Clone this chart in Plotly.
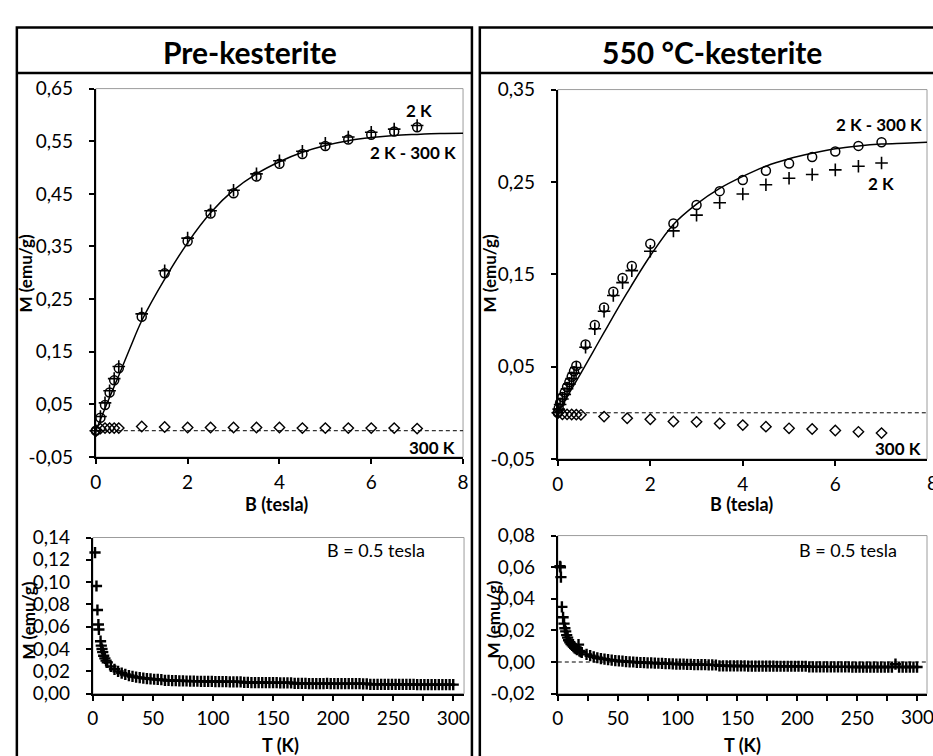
import plotly.graph_objects as go

FONT = "Lato"
W, H = 933, 756

# ---------------- M(B) isotherms, Pre-kesterite ----------------
B_PRE = [0, 0.1, 0.2, 0.3, 0.4, 0.5, 1, 1.5, 2, 2.5, 3, 3.5, 4, 4.5, 5, 5.5, 6, 6.5, 7]
M_PRE_2K = [0.0, 0.027, 0.053, 0.076, 0.099, 0.122, 0.222, 0.304, 0.366, 0.418, 0.457,
            0.488, 0.513, 0.531, 0.546, 0.558, 0.567, 0.573, 0.580]
M_PRE_DIFF = [0.0, 0.0248, 0.049, 0.0726, 0.0957, 0.1185, 0.2164, 0.299, 0.360, 0.4125, 0.451,
              0.483, 0.507, 0.5256, 0.541, 0.5532, 0.5624, 0.5686, 0.5765]
M_PRE_300K = [0.0, 0.004, 0.005, 0.005, 0.005, 0.005, 0.008, 0.007, 0.006, 0.006, 0.006,
              0.006, 0.006, 0.005, 0.005, 0.005, 0.005, 0.005, 0.004]
B_PRE_FIT = [0, 0.25, 0.5, 0.75, 1, 1.5, 2, 2.5, 3, 3.5, 4, 4.5, 5, 5.5, 6, 6.5, 7, 7.5, 8]
M_PRE_FIT = [0.0, 0.053, 0.105, 0.158, 0.209, 0.288, 0.357, 0.414, 0.457, 0.488, 0.511,
             0.529, 0.542, 0.551, 0.557, 0.561, 0.563, 0.5645, 0.565]

# ---------------- M(B) isotherms, 550 °C-kesterite ----------------
B_550 = [0, 0.02, 0.05, 0.1, 0.15, 0.2, 0.25, 0.3, 0.35, 0.4, 0.6, 0.8, 1.0, 1.2, 1.4, 1.6,
         2, 2.5, 3, 3.5, 4, 4.5, 5, 5.5, 6, 6.5, 7]
M_550_DIFF = [0.0, 0.005, 0.011, 0.017, 0.022, 0.028, 0.033, 0.039, 0.045, 0.051, 0.074, 0.095,
              0.114, 0.131, 0.146, 0.159, 0.183, 0.205, 0.225, 0.240, 0.252, 0.262, 0.270,
              0.277, 0.283, 0.289, 0.293]
M_550_2K = [0.0, 0.004, 0.009, 0.015, 0.020, 0.026, 0.031, 0.037, 0.043, 0.049, 0.071, 0.091,
            0.110, 0.127, 0.141, 0.154, 0.175, 0.197, 0.214, 0.2275, 0.237, 0.247, 0.254,
            0.258, 0.263, 0.267, 0.2705]
B_550_300K = [0, 0.1, 0.2, 0.3, 0.4, 0.5, 1, 1.5, 2, 2.5, 3, 3.5, 4, 4.5, 5, 5.5, 6, 6.5, 7]
M_550_300K = [0.0, -0.0015, -0.0017, -0.0018, -0.002, -0.0022, -0.0041, -0.0059, -0.0070,
              -0.0094, -0.0098, -0.0116, -0.0133, -0.0150, -0.0168, -0.0175, -0.0192,
              -0.0206, -0.0220]
B_550_FIT = [0, 0.25, 0.5, 0.75, 1, 1.5, 2, 2.5, 3, 3.5, 4, 4.5, 5, 5.5, 6, 6.5, 7, 7.5, 8]
M_550_FIT = [0.0, 0.0215, 0.043, 0.065, 0.087, 0.130, 0.170, 0.204, 0.226, 0.243, 0.256,
             0.267, 0.275, 0.281, 0.286, 0.289, 0.291, 0.292, 0.293]

# ---------------- M(T) at B = 0.5 tesla, Pre-kesterite ----------------
T_PRE = [1.8, 3.0, 3.8, 4.6, 5.0, 6.4, 7.0, 7.6, 8.2, 9.0, 10.0, 11.0,
         12, 15, 18, 21, 24, 27, 30, 33, 36, 39,
         42, 45, 48, 51, 54, 57, 60, 63, 66, 69,
         72, 75, 78, 81, 84, 87, 90, 93, 96, 99,
         102, 105, 108, 111, 114, 117, 120, 123, 126, 129,
         132, 135, 138, 141, 144, 147, 150, 153, 156, 159,
         162, 165, 168, 171, 174, 177, 180, 183, 186, 189,
         192, 195, 198, 201, 204, 207, 210, 213, 216, 219,
         222, 225, 228, 231, 234, 237, 240, 243, 246, 249,
         252, 255, 258, 261, 264, 267, 270, 273, 276, 279,
         282, 285, 288, 291, 294, 297, 300]
MT_PRE = [0.1265, 0.0965, 0.0750, 0.0620, 0.0575, 0.0470, 0.0430, 0.0400, 0.0372, 0.0340, 0.0316, 0.0296,
          0.0280, 0.0243, 0.0218, 0.0199, 0.0184, 0.0172, 0.0162, 0.0154, 0.0148, 0.0143,
          0.0139, 0.0135, 0.0132, 0.0129, 0.0127, 0.0125, 0.0119, 0.0118, 0.0117, 0.0116,
          0.0115, 0.0114, 0.0113, 0.0112, 0.0112, 0.0111, 0.0110, 0.0110, 0.0109, 0.0109,
          0.0108, 0.0108, 0.0107, 0.0107, 0.0106, 0.0106, 0.0106, 0.0105, 0.0100, 0.0100,
          0.0099, 0.0099, 0.0099, 0.0099, 0.0098, 0.0098, 0.0098, 0.0098, 0.0097, 0.0097,
          0.0097, 0.0097, 0.0091, 0.0091, 0.0091, 0.0091, 0.0090, 0.0090, 0.0090, 0.0090,
          0.0090, 0.0091, 0.0090, 0.0090, 0.0090, 0.0089, 0.0089, 0.0089, 0.0089, 0.0089,
          0.0089, 0.0088, 0.0088, 0.0083, 0.0083, 0.0083, 0.0083, 0.0083, 0.0082, 0.0082,
          0.0082, 0.0082, 0.0082, 0.0082, 0.0082, 0.0082, 0.0081, 0.0081, 0.0081, 0.0081,
          0.0081, 0.0081, 0.0081, 0.0081, 0.0081, 0.0081, 0.0081]

# ---------------- M(T) at B = 0.5 tesla, 550 °C-kesterite ----------------
T_550 = [1.8, 2.2, 2.6, 3.4, 4.4, 5.2, 5.9, 6.6, 7.4, 8.2, 9.0, 10.0, 11.0, 12.0, 13.0,
         14.0, 15.0, 16.0, 17.3, 18.0, 19.0, 20.0,
         24, 27, 30, 33, 36, 39, 42, 45, 48, 51,
         54, 57, 60, 63, 66, 69, 72, 75, 78, 81,
         84, 87, 90, 93, 96, 99, 102, 105, 108, 111,
         114, 117, 120, 123, 126, 129, 132, 135, 138, 141,
         144, 147, 150, 153, 156, 159, 162, 165, 168, 171,
         174, 177, 180, 183, 186, 189, 192, 195, 198, 201,
         204, 207, 210, 213, 216, 219, 222, 225, 228, 231,
         234, 237, 240, 243, 246, 249, 252, 255, 258, 261,
         264, 267, 270, 273, 276, 279, 282, 285, 288, 291,
         294, 297, 300]
MT_550 = [0.0606, 0.0600, 0.0537, 0.0349, 0.0283, 0.0243, 0.0214, 0.0194, 0.0170, 0.0154, 0.0138,
          0.0125, 0.0114, 0.0105, 0.0097, 0.0090, 0.0084, 0.0078, 0.0110, 0.0070, 0.0065, 0.0060,
          0.0048, 0.0040, 0.0033, 0.0027, 0.0022, 0.0018, 0.0015, 0.0012, 0.0009, 0.0007,
          0.0005, 0.0003, 0.0001, 0.0000, -0.0002, -0.0003, -0.0004, -0.0005, -0.0006, -0.0007,
          -0.0008, -0.0009, -0.0010, -0.0011, -0.0012, -0.0013, -0.0014, -0.0014, -0.0015, -0.0015,
          -0.0016, -0.0016, -0.0017, -0.0017, -0.0018, -0.0018, -0.0019, -0.0024, -0.0024, -0.0024,
          -0.0025, -0.0025, -0.0025, -0.0025, -0.0025, -0.0026, -0.0026, -0.0026, -0.0026, -0.0026,
          -0.0026, -0.0026, -0.0026, -0.0027, -0.0027, -0.0027, -0.0027, -0.0027, -0.0027, -0.0027,
          -0.0027, -0.0027, -0.0031, -0.0031, -0.0031, -0.0031, -0.0031, -0.0031, -0.0031, -0.0031,
          -0.0031, -0.0031, -0.0031, -0.0031, -0.0032, -0.0032, -0.0032, -0.0032, -0.0032, -0.0032,
          -0.0032, -0.0032, -0.0032, -0.0032, -0.0032, -0.0032, -0.0014, -0.0032, -0.0032, -0.0032,
          -0.0032, -0.0032, -0.0032]

# ---------------- tick labels ----------------
B_TICKS = [0, 2, 4, 6, 8]
B_TICKTEXT = ["0", "2", "4", "6", "8"]
T_TICKS = [0, 50, 100, 150, 200, 250, 300]
T_TICKTEXT = ["0", "50", "100", "150", "200", "250", "300"]
PRE_Y_TICKS = [-0.05, 0.05, 0.15, 0.25, 0.35, 0.45, 0.55, 0.65]
PRE_Y_TEXT = ["-0,05", "0,05", "0,15", "0,25", "0,35", "0,45", "0,55", "0,65"]
K550_Y_TICKS = [-0.05, 0.05, 0.15, 0.25, 0.35]
K550_Y_TEXT = ["-0,05", "0,05", "0,15", "0,25", "0,35"]
PRE_MT_TICKS = [0, 0.02, 0.04, 0.06, 0.08, 0.10, 0.12, 0.14]
PRE_MT_TEXT = ["0,00", "0,02", "0,04", "0,06", "0,08", "0,10", "0,12", "0,14"]
K550_MT_TICKS = [-0.02, 0, 0.02, 0.04, 0.06, 0.08]
K550_MT_TEXT = ["-0,02", "0,00", "0,02", "0,04", "0,06", "0,08"]


def px(x):
    return x / W


def py(y):
    return 1 - y / H


fig = go.Figure()

open_circle = dict(symbol="circle-open", size=9, color="black", line=dict(width=1.5, color="black"))
open_cross = dict(symbol="cross-thin-open", size=9, color="black", line=dict(width=1.6, color="black"))
open_diamond = dict(symbol="diamond-open", size=8, color="black", line=dict(width=1.4, color="black"))
dense_cross = dict(symbol="cross-thin-open", size=8, color="black", line=dict(width=2.4, color="black"))


def add_pts(x, y, marker, xa, ya):
    fig.add_trace(go.Scatter(x=x, y=y, mode="markers", marker=marker, xaxis=xa, yaxis=ya,
                             cliponaxis=False, showlegend=False, hoverinfo="skip"))


def add_fit(x, y, xa, ya):
    fig.add_trace(go.Scatter(x=x, y=y, mode="lines", line=dict(color="black", width=1.5, shape="spline"),
                             xaxis=xa, yaxis=ya, showlegend=False, hoverinfo="skip"))


# top-left panel
add_fit(B_PRE_FIT, M_PRE_FIT, "x", "y")
add_pts(B_PRE, M_PRE_300K, open_diamond, "x", "y")
add_pts(B_PRE, M_PRE_DIFF, open_circle, "x", "y")
add_pts(B_PRE, M_PRE_2K, open_cross, "x", "y")
# bottom-left panel
add_pts(T_PRE, MT_PRE, dense_cross, "x2", "y2")
# top-right panel
add_fit(B_550_FIT, M_550_FIT, "x3", "y3")
add_pts(B_550_300K, M_550_300K, open_diamond, "x3", "y3")
add_pts(B_550, M_550_DIFF, open_circle, "x3", "y3")
add_pts(B_550, M_550_2K, open_cross, "x3", "y3")
# bottom-right panel
add_pts(T_550, MT_550, dense_cross, "x4", "y4")

tickfont = dict(family=FONT, size=19, color="black")


def xax(domain, rng, tickvals, ticktext, anchor, minor=None):
    d = dict(domain=domain, range=rng, tickvals=tickvals, ticktext=ticktext, anchor=anchor,
             showline=True, linecolor="black", linewidth=2, ticks="outside", ticklen=5,
             tickwidth=1.5, tickcolor="black", showgrid=False, zeroline=False,
             tickfont=tickfont, ticklabelstandoff=2, fixedrange=True)
    if minor:
        d["minor"] = dict(ticks="outside", dtick=minor, tick0=0, ticklen=5, tickwidth=1.5,
                          tickcolor="black", showgrid=False)
    return d


def yax(domain, rng, tickvals, ticktext, anchor):
    return dict(domain=domain, range=rng, tickvals=tickvals, ticktext=ticktext, anchor=anchor,
                showline=True, linecolor="black", linewidth=2, ticks="outside", ticklen=5,
                tickwidth=1.5, tickcolor="black", showgrid=False, zeroline=False,
                tickfont=tickfont, ticklabelstandoff=12, fixedrange=True)


layout = dict(
    width=W, height=H, margin=dict(l=0, r=0, t=0, b=0),
    paper_bgcolor="white", plot_bgcolor="white", showlegend=False,
    xaxis=xax([px(91), px(463)], [0, 8], B_TICKS, B_TICKTEXT, "y"),
    yaxis=yax([py(459), py(79)], [-0.05, 0.65], PRE_Y_TICKS, PRE_Y_TEXT, "x"),
    xaxis2=xax([px(88), px(464)], [0, 309], T_TICKS, T_TICKTEXT, "y2", minor=25),
    yaxis2=yax([py(703), py(542)], [0, 0.14], PRE_MT_TICKS, PRE_MT_TEXT, "x2"),
    xaxis3=xax([px(559), 1], [0, (W - 559) / 46.85], B_TICKS, B_TICKTEXT, "y3"),
    yaxis3=yax([py(461), py(80)], [-0.05, 0.35], K550_Y_TICKS, K550_Y_TEXT, "x3"),
    xaxis4=xax([px(559), 1], [0, (W - 559) / 1.213], T_TICKS, T_TICKTEXT, "y4", minor=25),
    yaxis4=yax([py(703), py(540)], [-0.02, 0.08], K550_MT_TICKS, K550_MT_TEXT, "x4"),
)

shapes = []
# light plot-area frames
for xa, ya in [("x", "y"), ("x2", "y2"), ("x3", "y3"), ("x4", "y4")]:
    shapes.append(dict(type="rect", xref=f"{xa} domain", yref=f"{ya} domain", x0=0, x1=1, y0=0, y1=1,
                       line=dict(color="#9c9c9c", width=1), layer="below"))
# zero reference lines
for xa, ya in [("x", "y"), ("x3", "y3"), ("x4", "y4")]:
    shapes.append(dict(type="line", xref=f"{xa} domain", yref=ya, x0=0, x1=1, y0=0, y1=0,
                       line=dict(color="black", width=1, dash="4px,3px"), layer="below"))
# outer panel boxes and title separators
for x0, x1 in [(11, 472), (480, 960)]:
    shapes.append(dict(type="rect", xref="paper", yref="paper", x0=px(x0), x1=px(x1),
                       y0=py(800), y1=py(16), line=dict(color="black", width=2.5)))
    shapes.append(dict(type="line", xref="paper", yref="paper", x0=px(x0), x1=px(x1),
                       y0=py(63), y1=py(63), line=dict(color="black", width=2.5)))
layout["shapes"] = shapes


def ann(text, x, y, size, bold=False, angle=0):
    return dict(text=f"<b>{text}</b>" if bold else text, x=px(x), y=py(y), xref="paper", yref="paper",
                showarrow=False, textangle=angle, xanchor="center", yanchor="middle",
                font=dict(family=FONT, size=size, color="black"))


layout["annotations"] = [
    ann("Pre-kesterite", 247, 41, 30, bold=True),
    ann("550 °C-kesterite", 715, 41, 30, bold=True),
    ann("M (emu/g)", 20, 270, 17, bold=True, angle=-90),
    ann("M (emu/g)", 490, 270, 17, bold=True, angle=-90),
    ann("M (emu/g)", 23, 628, 17, bold=True, angle=-90),
    ann("M (emu/g)", 494, 627, 17, bold=True, angle=-90),
    ann("B (tesla)", 274, 507, 18, bold=True),
    ann("B (tesla)", 745, 507, 18, bold=True),
    ann("T (K)", 278, 756, 18, bold=True),
    ann("T (K)", 746, 756, 18, bold=True),
    # last tick labels of the right-hand axes sit on the page edge
    ann("8", 939, 485, 19),
    ann("300", 923, 727, 19),
    ann("2 K", 418, 102, 17, bold=True),
    ann("2 K - 300 K", 412, 145, 17, bold=True),
    ann("300 K", 432, 449, 17, bold=True),
    ann("2 K - 300 K", 884, 116, 17, bold=True),
    ann("2 K", 886, 177, 17, bold=True),
    ann("300 K", 904, 450, 17, bold=True),
    ann("B = 0.5 tesla", 375, 555, 18),
    ann("B = 0.5 tesla", 853, 555, 18),
]

fig.update_layout(**layout)
fig.write_html("out.html")
